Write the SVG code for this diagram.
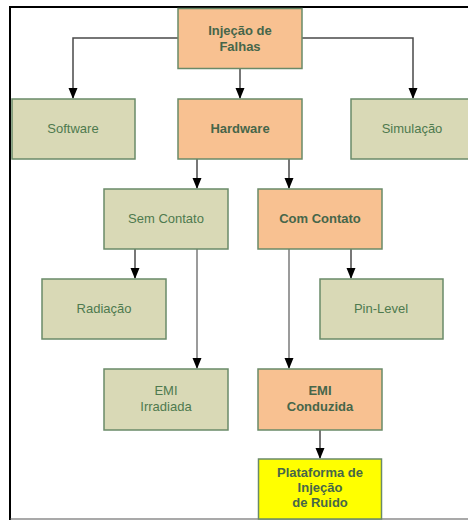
<svg xmlns="http://www.w3.org/2000/svg" width="468" height="520" viewBox="0 0 468 520">
  <style>
    .box rect { stroke: #6a8a68; stroke-width: 1.5; }
    .green rect { fill: #d9d9b6; }
    .orange rect { fill: #f8c191; }
    .yellow rect { fill: #ffff00; }
    text { font-family: "Liberation Sans", Arial, sans-serif; font-size: 13px; fill: #4e7a4e; text-anchor: middle; }
    .bold text { font-weight: bold; fill: #46664a; }
    .conn path { fill: none; stroke: #4a4a4a; stroke-width: 1.5; }
    .conn .long { stroke: #7a7a7a; }
    .heads path { fill: #000; }
  </style>

  <rect x="0" y="0" width="468" height="520" fill="#fff"/>

  <!-- frame -->
  <path d="M10,520 L10,7 L468,7" fill="none" stroke="#000" stroke-width="2"/>
  <path d="M10,519 L468,519" fill="none" stroke="#555" stroke-width="1.2"/>

  <!-- connectors -->
  <g id="connectors" class="conn">
    <path d="M178,38 L73,38 L73,98"/>
    <path d="M302,38 L413,38 L413,98"/>
    <path d="M240,68 L240,98"/>
    <path d="M197,159 L197,188"/>
    <path d="M289,159 L289,188"/>
    <path d="M135,249 L135,278"/>
    <path d="M351,249 L351,278"/>
    <path class="long" d="M197,249 L197,368"/>
    <path class="long" d="M289,249 L289,368"/>
    <path d="M320,430 L320,458"/>
  </g>
  <!-- arrowheads -->
  <g id="arrowheads" class="heads">
    <path d="M68.5,88 L77.5,88 L73,99 Z"/>
    <path d="M408.5,88 L417.5,88 L413,99 Z"/>
    <path d="M235.5,88 L244.5,88 L240,99 Z"/>
    <path d="M192.5,178 L201.5,178 L197,189 Z"/>
    <path d="M284.5,178 L293.5,178 L289,189 Z"/>
    <path d="M130.5,268 L139.5,268 L135,279 Z"/>
    <path d="M346.5,268 L355.5,268 L351,279 Z"/>
    <path d="M192.5,358 L201.5,358 L197,369 Z"/>
    <path d="M284.5,358 L293.5,358 L289,369 Z"/>
    <path d="M315.5,448 L324.5,448 L320,459 Z"/>
  </g>

  <g id="injecao-falhas" class="box orange bold">
    <rect x="178" y="8.5" width="124" height="60"/>
    <text x="240" y="35">Injeção de</text>
    <text x="240" y="51">Falhas</text>
  </g>
  <g id="software" class="box green">
    <rect x="12" y="99" width="123" height="60"/>
    <text x="73" y="133">Software</text>
  </g>
  <g id="hardware" class="box orange bold">
    <rect x="178" y="99" width="124" height="60"/>
    <text x="240" y="133">Hardware</text>
  </g>
  <g id="simulacao" class="box green">
    <rect x="351" y="99" width="124" height="60"/>
    <text x="412" y="133">Simulação</text>
  </g>
  <g id="sem-contato" class="box green">
    <rect x="104" y="189" width="124" height="60"/>
    <text x="166" y="223">Sem Contato</text>
  </g>
  <g id="com-contato" class="box orange bold">
    <rect x="258" y="189" width="124" height="60"/>
    <text x="320" y="223">Com Contato</text>
  </g>
  <g id="radiacao" class="box green">
    <rect x="42" y="279" width="124" height="60"/>
    <text x="104" y="313">Radiação</text>
  </g>
  <g id="pin-level" class="box green">
    <rect x="320" y="279" width="123" height="60"/>
    <text x="381" y="313">Pin-Level</text>
  </g>
  <g id="emi-irradiada" class="box green">
    <rect x="104" y="369" width="124" height="61"/>
    <text x="166" y="395">EMI</text>
    <text x="166" y="411">Irradiada</text>
  </g>
  <g id="emi-conduzida" class="box orange bold">
    <rect x="258" y="369" width="124" height="61"/>
    <text x="320" y="395">EMI</text>
    <text x="320" y="411">Conduzida</text>
  </g>
  <g id="plataforma" class="box yellow bold">
    <rect x="258.5" y="459" width="123" height="60"/>
    <text x="320" y="477">Plataforma de</text>
    <text x="320" y="492">Injeção</text>
    <text x="320" y="507">de Ruido</text>
  </g>
</svg>
